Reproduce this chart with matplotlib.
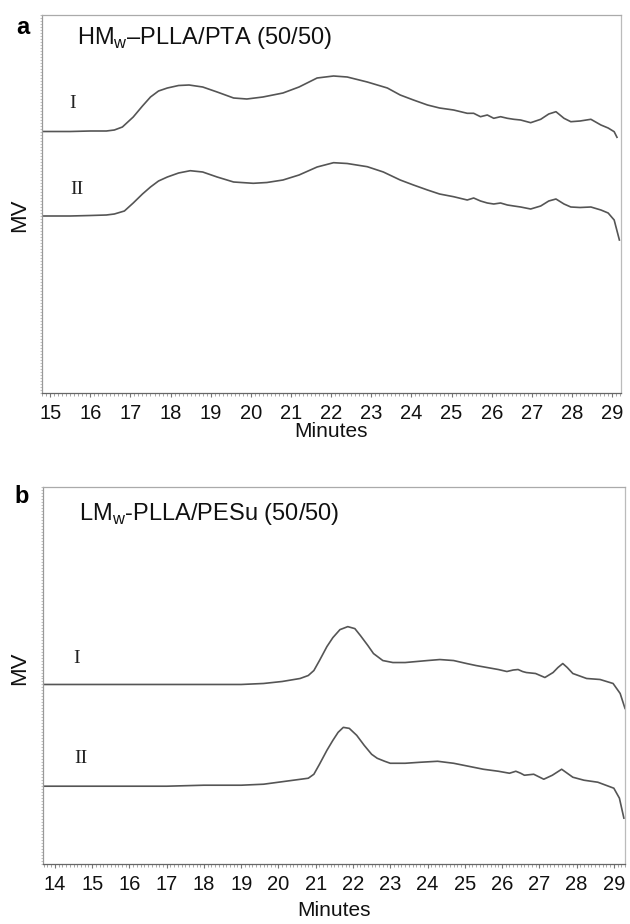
import matplotlib
matplotlib.use("Agg")
import matplotlib.pyplot as plt
from matplotlib.ticker import MultipleLocator

# ---------------- data ----------------
# Panel a: HMw-PLLA/PTA (50/50)
a_I_min = [14.79, 15.5, 16.0, 16.4, 16.6, 16.8, 17.07, 17.3, 17.5, 17.7, 17.92, 18.2, 18.46, 18.8,
           19.16, 19.57, 19.9, 20.3, 20.8, 21.2, 21.65, 22.06, 22.4, 22.9, 23.4, 23.72, 24.05, 24.4,
           24.7, 25.05, 25.39, 25.55, 25.72, 25.89, 26.05, 26.22, 26.39, 26.55, 26.72, 26.97, 27.22,
           27.42, 27.6, 27.8, 27.97, 28.2, 28.47, 28.72, 28.9, 29.05, 29.12]
a_I_mv = [261.5, 261.5, 262, 262, 263, 266, 276, 287, 296, 302, 305, 307.5, 308, 306,
          301, 295, 294, 296, 300, 306, 315, 317, 316, 311, 305, 298, 293, 288,
          285, 283, 279.7, 279.7, 276.3, 278, 274.7, 276.3, 274.7, 273.7, 273, 270.3, 273.7,
          279, 281.3, 274.7, 271.3, 272, 273.7, 268, 265, 261.3, 255.7]

a_II_min = [14.79, 15.5, 16.0, 16.4, 16.6, 16.85, 17.07, 17.3, 17.5, 17.7, 17.92, 18.2, 18.49, 18.8,
            19.16, 19.57, 20.06, 20.4, 20.8, 21.2, 21.65, 22.06, 22.4, 22.9, 23.3, 23.72, 24.05, 24.4,
            24.7, 25.05, 25.39, 25.55, 25.72, 25.89, 26.05, 26.22, 26.39, 26.55, 26.72, 26.97, 27.22,
            27.42, 27.6, 27.8, 27.97, 28.2, 28.47, 28.72, 28.9, 29.05, 29.18]
a_II_mv = [177, 177, 177.5, 178, 179, 182, 190, 199, 206, 212, 216, 220, 222.3, 221,
           216, 211, 209.7, 210.5, 213, 218, 226, 230.3, 229.5, 226.3, 221, 213, 208, 203,
           199, 196.3, 193, 195, 192, 190, 189, 190, 188, 187, 186, 184, 187,
           192, 194, 189, 186, 185.5, 186, 183, 180, 173, 153]

# Panel b: LMw-PLLA/PESu (50/50)
b_I_min = [13.68, 15.0, 16.0, 17.0, 18.0, 19.0, 19.6, 20.1, 20.58, 20.8, 20.95, 21.1, 21.3, 21.46,
           21.65, 21.86, 22.05, 22.2, 22.4, 22.55, 22.8, 23.07, 23.4, 23.7, 24.0, 24.33, 24.7, 25.05,
           25.3, 25.6, 25.9, 26.13, 26.3, 26.43, 26.55, 26.65, 26.9, 27.15, 27.37, 27.5, 27.63, 27.75,
           27.9, 28.27, 28.63, 28.98, 29.17, 29.3]
b_I_mv = [180, 180, 180, 180, 180, 180, 181, 183, 186, 189, 194, 204, 218, 227,
          235, 238, 236, 229, 219, 211, 204, 202, 202, 203, 204, 205, 204, 201,
          199, 197, 195, 193, 194.5, 195, 193, 192, 191, 187, 192, 197, 201, 197,
          191, 186, 185, 181, 171, 156]

b_II_min = [13.68, 15, 16, 17, 18, 19.0, 19.6, 20.0, 20.4, 20.8, 20.95, 21.1, 21.3, 21.46, 21.6,
            21.74, 21.9, 22.1, 22.3, 22.5, 22.65, 22.85, 23.0, 23.4, 23.8, 24.27, 24.7, 25.1, 25.5,
            25.9, 26.2, 26.37, 26.5, 26.6, 26.85, 27.12, 27.35, 27.6, 27.75, 27.9, 28.2, 28.57,
            29.0, 29.15, 29.27]
b_II_mv = [78, 78, 78, 78, 79, 79, 80, 82, 84, 86, 90, 100, 114, 124, 132,
           137, 136, 129, 119, 110, 106, 103, 101, 101, 102, 103, 101, 98, 95,
           93, 91, 93, 91, 89, 90, 85, 89, 95, 91, 87, 84, 82,
           76, 66, 46]

a_ticks = list(range(15, 30))
b_ticks = list(range(14, 30))
a_title = "HM$_\\mathregular{w}$\u2013PLLA/PTA (50/50)"
b_title = "LM$_\\mathregular{w}$-PLLA/PESu (50/50)"

# ---------------- figure ----------------
plt.rcParams['font.family'] = ['Liberation Sans', 'DejaVu Sans']
plt.rcParams['mathtext.fontset'] = 'custom'
plt.rcParams['mathtext.rm'] = 'Liberation Sans'

W, H = 630, 924
fig = plt.figure(figsize=(W / 100, H / 100), dpi=100)

def box(l, t, r, b):
    return [l / W, 1 - b / H, (r - l) / W, (b - t) / H]

ax1 = fig.add_axes(box(41.7, 15, 621, 393))
ax2 = fig.add_axes(box(43, 487, 625, 864))

line_c = '#555555'
for ax, xl, ticks in ((ax1, (14.79, 29.22), a_ticks), (ax2, (13.68, 29.3), b_ticks)):
    ax.set_xlim(*xl)
    ax.set_ylim(0, 378)
    ax.set_xticks(ticks)
    ax.xaxis.set_minor_locator(MultipleLocator(0.1))
    ax.yaxis.set_major_locator(MultipleLocator(1000))
    ax.yaxis.set_minor_locator(MultipleLocator(3))
    ax.set_yticklabels([])
    ax.tick_params(axis='x', which='major', length=3, width=0.8, color='#777777',
                   labelsize=14.5, pad=5, labelcolor='#111111')
    ax.tick_params(axis='x', which='minor', length=1.8, width=0.6, color='#999999')
    ax.tick_params(axis='y', which='both', length=1.2, width=0.5, color='#aaaaaa', left=True)
    ax.spines['bottom'].set_color('#666666')
    ax.spines['left'].set_color('#999999')
    ax.spines['top'].set_color('#aaaaaa')
    ax.spines['right'].set_color('#bbbbbb')
    for s in ax.spines.values():
        s.set_linewidth(0.9)

ax1.plot(a_I_min, a_I_mv, color=line_c, lw=1.2)
ax1.plot(a_II_min, a_II_mv, color=line_c, lw=1.2)
ax2.plot(b_I_min, b_I_mv, color=line_c, lw=1.2)
ax2.plot(b_II_min, b_II_mv, color=line_c, lw=1.2)

serif = ['Liberation Serif', 'DejaVu Serif']
ax1.text(15.57, 289, "I", family=serif, fontsize=14, ha='center', va='center', color='#222222')
ax1.text(15.67, 204, "II", family=serif, fontsize=14, ha='center', va='center', color='#222222')
ax2.text(14.59, 206, "I", family=serif, fontsize=14, ha='center', va='center', color='#222222')
ax2.text(14.70, 106, "II", family=serif, fontsize=14, ha='center', va='center', color='#222222')

ax1.text(15.67, 355, a_title, fontsize=17, ha='left', va='center', color='#111111')
ax2.text(14.65, 351, b_title, fontsize=17, ha='left', va='center', color='#111111')

fig.text(23 / W, 1 - 27 / H, "a", fontsize=17, fontweight='bold', ha='center', va='center')
fig.text(22 / W, 1 - 497 / H, "b", fontsize=17, fontweight='bold', ha='center', va='center')

fig.text(20 / W, 1 - 215 / H, "MV", fontsize=16, rotation=90, ha='center', va='center', color='#111111')
fig.text(20 / W, 1 - 668 / H, "MV", fontsize=16, rotation=90, ha='center', va='center', color='#111111')

fig.text(331 / W, 1 - 432 / H, "Minutes", fontsize=15, ha='center', va='center', color='#111111')
fig.text(334 / W, 1 - 911 / H, "Minutes", fontsize=15, ha='center', va='center', color='#111111')

fig.savefig("out.png", dpi=100, facecolor='white')
